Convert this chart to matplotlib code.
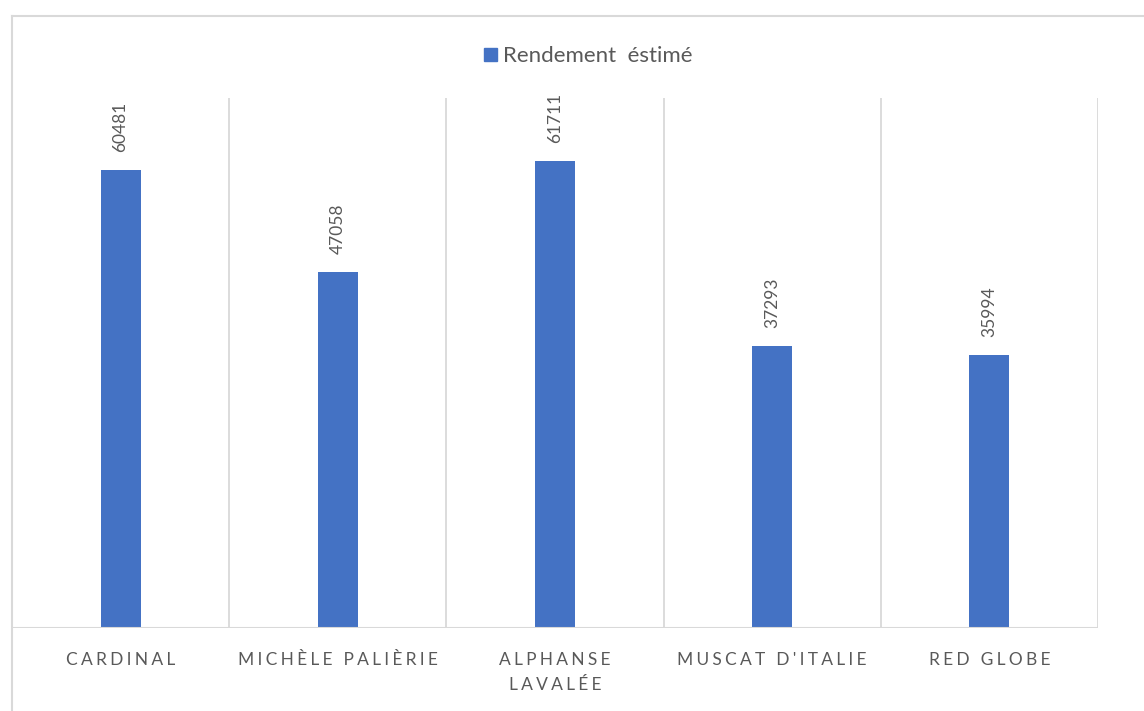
import matplotlib
matplotlib.use("Agg")
import matplotlib.pyplot as plt
from matplotlib.lines import Line2D
from matplotlib.patches import Rectangle

# Data
categories = ["CARDINAL", "MICHÈLE PALIÈRIE", "ALPHANSE\nLAVALÉE", "MUSCAT D'ITALIE", "RED GLOBE"]
rendement = [60481, 47058, 61711, 37293, 35994]
series_name = "Rendement  éstimé"

BAR_COLOR = "#4472C4"
GRID_COLOR = "#D9D9D9"
TEXT_COLOR = "#595959"
FONT = ["Lato", "DejaVu Sans"]

W, H = 1144, 711
fig = plt.figure(figsize=(W / 100, H / 100), dpi=100)
fig.patch.set_facecolor("white")

# Plot area in pixel coordinates
left_px, right_px, top_px, bottom_px = 12, 1098, 98, 628
ax = fig.add_axes([left_px / W, 1 - bottom_px / H,
                   (right_px - left_px) / W, (bottom_px - top_px) / H])

x = list(range(len(categories)))
ax.bar(x, rendement, width=0.185, color=BAR_COLOR, zorder=3)
ax.set_xlim(-0.5, len(categories) - 0.5)
ax.set_ylim(0, 70000)

# Vertical gridlines at category boundaries
for b in [i - 0.5 for i in range(len(categories) + 1)]:
    ax.axvline(b, color=GRID_COLOR, lw=1.3, zorder=1)

for s in ax.spines.values():
    s.set_visible(False)
ax.axhline(0, color=GRID_COLOR, lw=1.5, zorder=4)
ax.set_yticks([])
ax.set_xticks([])


def spaced(s):
    # widen letter spacing with thin + hair spaces
    return "\n".join("\u2009\u200a".join(line) for line in s.split("\n"))


for xi, cat in zip(x, categories):
    ax.annotate(spaced(cat), xy=(xi, 0), xytext=(0, -17), textcoords="offset points",
                ha="center", va="top", fontsize=12.5, color=TEXT_COLOR,
                family=FONT, linespacing=1.7, annotation_clip=False)

# Value labels above bars
for xi, v in zip(x, rendement):
    ax.annotate(f"{v}", xy=(xi, v), xytext=(0, 13), textcoords="offset points",
                ha="center", va="bottom", rotation=90, fontsize=12.5,
                color=TEXT_COLOR, family=FONT)

# Legend
fig.patches.append(Rectangle((484 / W, 1 - 61 / H), 13 / W, 13 / H,
                             transform=fig.transFigure, color=BAR_COLOR))
fig.text(503 / W, 1 - 56 / H, series_name, ha="left", va="center",
         fontsize=16, color=TEXT_COLOR, family=FONT)

# Chart border (top and left edges)
fig.lines.append(Line2D([12 / W, 12 / W], [0, 1 - 16 / H], transform=fig.transFigure,
                        color=GRID_COLOR, lw=1.5))
fig.lines.append(Line2D([12 / W, 1], [1 - 16 / H, 1 - 16 / H], transform=fig.transFigure,
                        color=GRID_COLOR, lw=1.5))

fig.savefig("out.png", dpi=100)
